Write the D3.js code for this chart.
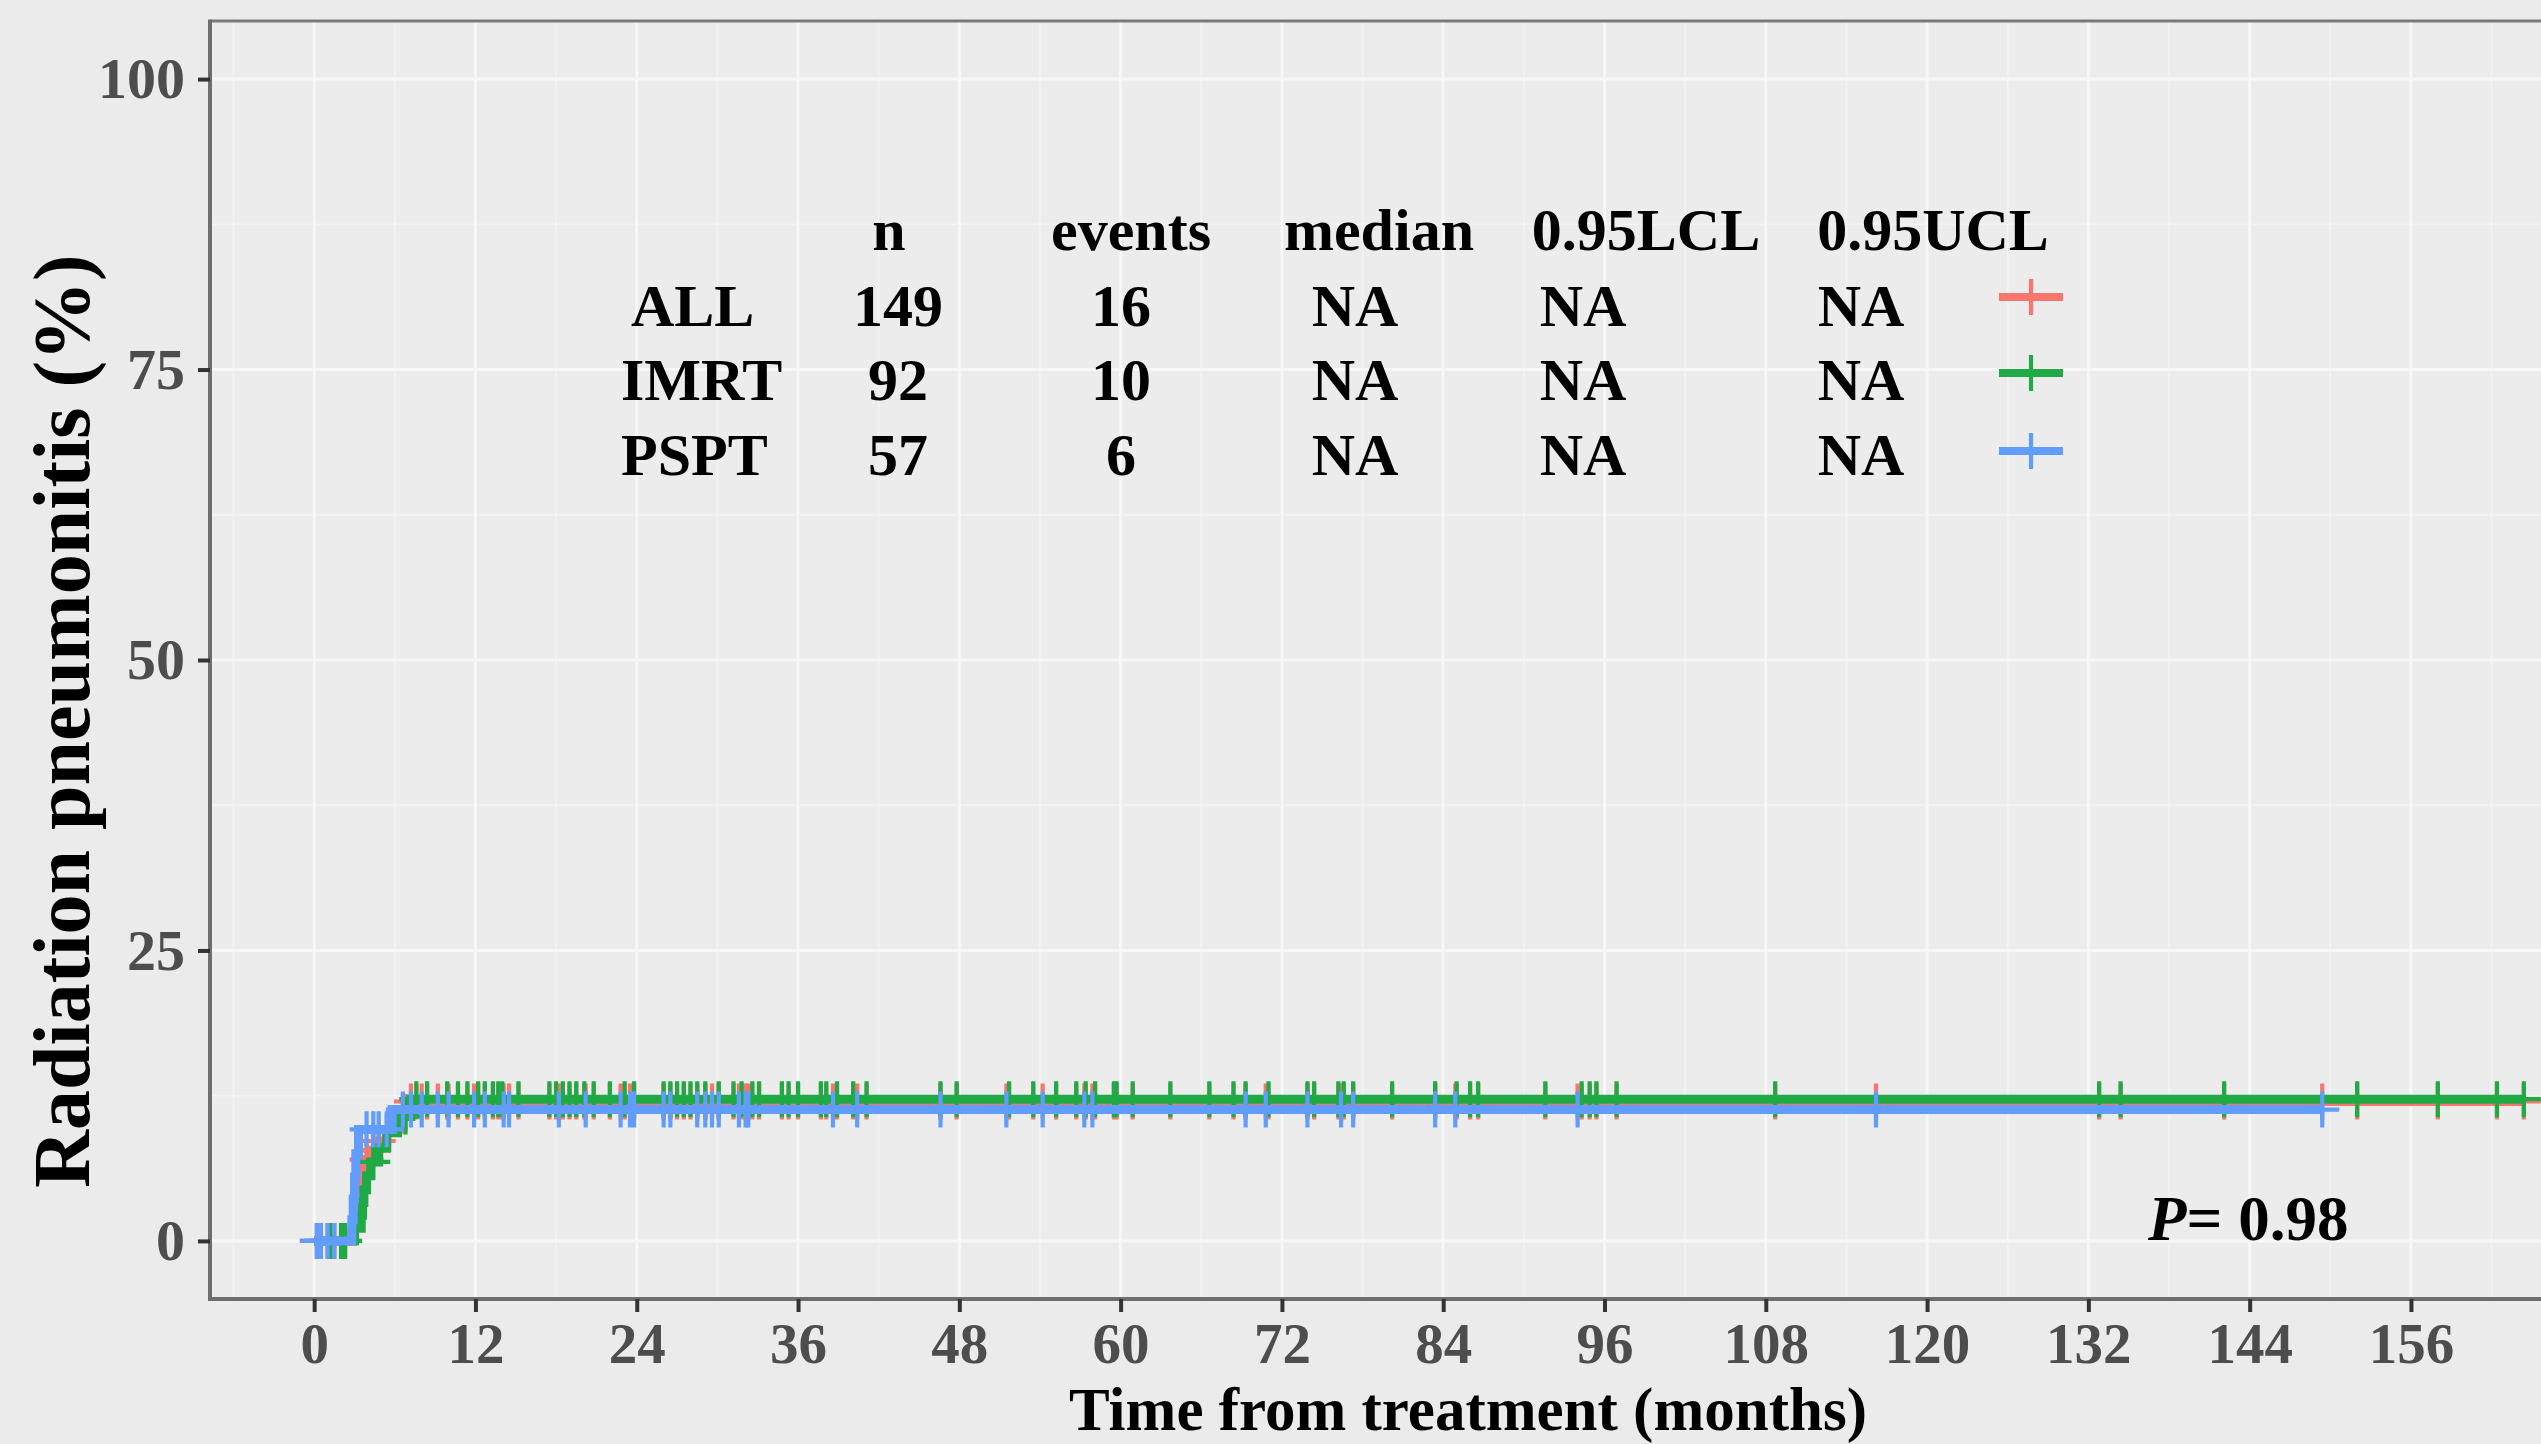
<!DOCTYPE html>
<html>
<head>
<meta charset="utf-8">
<script src="https://cdn.jsdelivr.net/npm/d3@7"></script>
<style>
  html, body { margin: 0; padding: 0; background: #EBEBEB; overflow: hidden; }
  svg { display: block; }
</style>
</head>
<body>
<svg id="chart" width="2541" height="1444"></svg>
<script>
// ---- data -------------------------------------------------------------
const groups = ["ALL", "IMRT", "PSPT"];

const xTicks = [0, 12, 24, 36, 48, 60, 72, 84, 96, 108, 120, 132, 144, 156];
const yTicks = [0, 25, 50, 75, 100];

// cumulative incidence (%) steps: event times (months) and level after each step
const allEventTimes  = [2.8, 2.9, 3.0, 3.1, 3.3, 3.5, 3.6, 3.7, 3.9, 4.2, 4.8, 5.4, 5.8, 6.2, 7.2];
const allIncidence   = [0.7, 1.4, 2.8, 3.5, 4.2, 4.9, 5.6, 6.3, 7.0, 7.8, 8.6, 9.4, 10.2, 11.1, 12.0];
const imrtEventTimes = [3.0, 3.5, 3.6, 3.7, 3.9, 4.2, 4.8, 5.4, 6.2, 7.2];
const imrtIncidence  = [1.1, 2.2, 3.3, 4.4, 5.6, 6.8, 8.0, 9.3, 10.7, 12.2];
const psptEventTimes = [2.8, 2.9, 3.0, 3.1, 3.3, 5.8];
const psptIncidence  = [1.8, 3.6, 5.5, 7.5, 9.6, 11.3];

// censoring times (months)
const imrtCensorTimes = [1.2, 2.0, 2.3, 4.4, 6.8, 7.6, 8.4, 9.9, 10.7, 11.4, 12.2, 12.7, 13.3, 13.7,
  14.0, 15.2, 17.5, 18.0, 18.5, 19.0, 19.5, 20.1, 20.8, 22.0, 23.1, 23.8, 26.0, 26.5, 27.0, 27.5,
  28.0, 28.5, 29.1, 30.1, 31.2, 31.8, 32.6, 33.1, 34.8, 35.3, 36.0, 37.7, 38.1, 38.9, 40.1, 41.1,
  46.6, 47.8, 51.7, 53.5, 55.2, 56.7, 57.4, 58.1, 59.5, 59.7, 60.9, 63.7, 66.6, 68.4, 69.3, 71.0,
  73.9, 74.4, 76.2, 76.6, 77.3, 80.2, 83.4, 85.0, 86.0, 86.6, 91.6, 94.3, 94.9, 95.4, 96.9, 108.7,
  132.8, 134.4, 142.1, 152.0, 158.0, 162.4, 164.4];
const psptCensorTimes = [0.2, 0.5, 1.0, 1.5, 3.9, 4.4, 4.8, 5.4, 6.6, 7.2, 8.0, 9.2, 10.0, 11.9,
  12.7, 14.1, 14.5, 18.2, 20.2, 22.8, 23.5, 23.8, 26.0, 26.5, 28.5, 29.1, 29.6, 30.1, 31.6, 32.1,
  32.3, 38.6, 40.4, 46.6, 51.5, 54.2, 57.3, 57.9, 69.3, 70.8, 73.9, 76.4, 77.3, 83.4, 84.9, 94.0,
  116.2, 149.4];
// the pooled cohort is censored whenever either arm is
const allCensorTimes = imrtCensorTimes.concat(psptCensorTimes).sort((a, b) => a - b);

// summary table
const tableHeader = ["n", "events", "median", "0.95LCL", "0.95UCL"];
const tableN      = [149, 92, 57];
const tableEvents = [16, 10, 6];
const tableMedian = ["NA", "NA", "NA"];
const tableLCL    = ["NA", "NA", "NA"];
const tableUCL    = ["NA", "NA", "NA"];

const pValue = 0.98;

// ---- style & layout ---------------------------------------------------
const colors = { ALL: "#F8766D", IMRT: "#1FAA45", PSPT: "#619CFF" };
const FONT = "'Liberation Serif', 'Times New Roman', serif";
const W = 2541, H = 1444;
const panel = { left: 210, top: 21, right: 2626, bottom: 1299 };

const series = {
  ALL:  { times: allEventTimes,  levels: allIncidence,  censor: allCensorTimes },
  IMRT: { times: imrtEventTimes, levels: imrtIncidence, censor: imrtCensorTimes },
  PSPT: { times: psptEventTimes, levels: psptIncidence, censor: psptCensorTimes }
};

const svg = d3.select("#chart");

const x = d3.scaleLinear().domain([-7.75, 172]).range([panel.left, panel.right]);
const y = d3.scaleLinear().domain([-5, 105]).range([panel.bottom, panel.top]);

// panel background
svg.append("rect")
  .attr("x", panel.left).attr("y", panel.top)
  .attr("width", panel.right - panel.left).attr("height", panel.bottom - panel.top)
  .attr("fill", "#ECECEC");

// grid lines
const grid = svg.append("g");
const xMinor = d3.range(-6, 172, 12);
const yMinor = [12.5, 37.5, 62.5, 87.5];
grid.selectAll(".xminor").data(xMinor).join("line")
  .attr("x1", d => x(d)).attr("x2", d => x(d))
  .attr("y1", panel.top).attr("y2", panel.bottom)
  .attr("stroke", "#F3F3F3").attr("stroke-width", 1.6);
grid.selectAll(".yminor").data(yMinor).join("line")
  .attr("x1", panel.left).attr("x2", panel.right)
  .attr("y1", d => y(d)).attr("y2", d => y(d))
  .attr("stroke", "#F3F3F3").attr("stroke-width", 1.6);
grid.selectAll(".xmajor").data(xTicks.concat([168])).join("line")
  .attr("x1", d => x(d)).attr("x2", d => x(d))
  .attr("y1", panel.top).attr("y2", panel.bottom)
  .attr("stroke", "#F7F7F7").attr("stroke-width", 3);
grid.selectAll(".ymajor").data(yTicks).join("line")
  .attr("x1", panel.left).attr("x2", panel.right)
  .attr("y1", d => y(d)).attr("y2", d => y(d))
  .attr("stroke", "#F7F7F7").attr("stroke-width", 3);

// step curves with censor marks
const stepLine = d3.line().x(d => x(d[0])).y(d => y(d[1])).curve(d3.curveStepAfter);
const levelAt = (s, t) => {
  const i = d3.bisectRight(s.times, t);
  return i === 0 ? 0 : s.levels[i - 1];
};
const plus = "M-17,0H17M0,-18V18";

const curves = svg.append("g");
groups.forEach(g => {
  const s = series[g];
  const end = d3.max(s.censor.concat(s.times));
  const pts = [[0, 0]].concat(s.times.map((t, i) => [t, s.levels[i]]));
  pts.push([end, s.levels[s.levels.length - 1]]);
  const grp = curves.append("g");
  grp.append("path")
    .attr("d", stepLine(pts))
    .attr("fill", "none")
    .attr("stroke", colors[g])
    .attr("stroke-width", 9);
  grp.selectAll("path.censor").data(s.censor).join("path")
    .attr("class", "censor")
    .attr("transform", t => `translate(${x(t)},${y(levelAt(s, t))})`)
    .attr("d", plus)
    .attr("stroke", colors[g])
    .attr("stroke-width", 4.2)
    .attr("fill", "none");
});

// panel border and axis lines
svg.append("line")
  .attr("x1", panel.left).attr("x2", W).attr("y1", panel.top).attr("y2", panel.top)
  .attr("stroke", "#7A7A7A").attr("stroke-width", 3);
svg.append("line")
  .attr("x1", panel.left).attr("x2", panel.left).attr("y1", panel.top - 1.5).attr("y2", panel.bottom + 2)
  .attr("stroke", "#6E6E6E").attr("stroke-width", 4);
svg.append("line")
  .attr("x1", panel.left - 2).attr("x2", W).attr("y1", panel.bottom).attr("y2", panel.bottom)
  .attr("stroke", "#6E6E6E").attr("stroke-width", 4);

// axes
const xAxis = svg.append("g")
  .attr("transform", `translate(0,${panel.bottom})`)
  .call(d3.axisBottom(x).tickValues(xTicks).tickSize(13).tickFormat(d3.format("d")));
xAxis.select(".domain").remove();
xAxis.selectAll(".tick line").attr("stroke", "#333").attr("stroke-width", 4);
xAxis.selectAll(".tick text")
  .attr("y", 64).attr("dy", null)
  .attr("fill", "#4D4D4D")
  .style("font-family", FONT).style("font-size", "57px").style("font-weight", "bold");

const yAxis = svg.append("g")
  .attr("transform", `translate(${panel.left},0)`)
  .call(d3.axisLeft(y).tickValues(yTicks).tickSize(12).tickFormat(d3.format("d")));
yAxis.select(".domain").remove();
yAxis.selectAll(".tick line").attr("stroke", "#333").attr("stroke-width", 4);
yAxis.selectAll(".tick text")
  .attr("x", -25).attr("dy", "0.32em")
  .attr("fill", "#4D4D4D")
  .style("font-family", FONT).style("font-size", "58px").style("font-weight", "bold");

// axis titles
svg.append("text")
  .attr("transform", "translate(89,721) rotate(-90)")
  .attr("text-anchor", "middle")
  .style("font-family", FONT).style("font-size", "80px").style("font-weight", "bold")
  .attr("fill", "#000")
  .text("Radiation pneumonitis (%)");
svg.append("text")
  .attr("x", 1468).attr("y", 1430)
  .attr("text-anchor", "middle")
  .style("font-family", FONT).style("font-size", "61px").style("font-weight", "bold")
  .attr("fill", "#000")
  .text("Time from treatment (months)");

// summary table with legend keys
const table = svg.append("g")
  .style("font-family", FONT).style("font-size", "60px").style("font-weight", "bold")
  .attr("fill", "#000");
const headerX = [889, 1131, 1379, 1646, 1933];
const cellX = [898, 1121, 1355, 1583, 1861];
const rowY = [326, 400, 475];
const labelX = [631, 621, 621];
const keyY = [297, 373, 451];

table.selectAll("text.head").data(tableHeader).join("text")
  .attr("class", "head")
  .attr("x", (d, i) => headerX[i]).attr("y", 250)
  .attr("text-anchor", "middle")
  .text(d => d);

groups.forEach((g, r) => {
  table.append("text")
    .attr("x", labelX[r]).attr("y", rowY[r])
    .attr("text-anchor", "start")
    .text(g);
  const cells = [tableN[r], tableEvents[r], tableMedian[r], tableLCL[r], tableUCL[r]];
  table.selectAll(`text.row${r}`).data(cells).join("text")
    .attr("class", `row${r}`)
    .attr("x", (d, i) => cellX[i]).attr("y", rowY[r])
    .attr("text-anchor", "middle")
    .text(d => d);
  const key = svg.append("g").attr("transform", `translate(2031,${keyY[r]})`);
  key.append("line").attr("x1", -32).attr("x2", 32)
    .attr("stroke", colors[g]).attr("stroke-width", 8);
  key.append("path").attr("d", plus)
    .attr("stroke", colors[g]).attr("stroke-width", 4.2);
});

// log-rank p-value
const pText = svg.append("text")
  .attr("x", 2148).attr("y", 1240)
  .style("font-family", FONT).style("font-size", "63px").style("font-weight", "bold")
  .attr("fill", "#000");
pText.append("tspan").style("font-style", "italic").text("P");
pText.append("tspan").text("= " + d3.format(".2f")(pValue));
</script>
</body>
</html>
